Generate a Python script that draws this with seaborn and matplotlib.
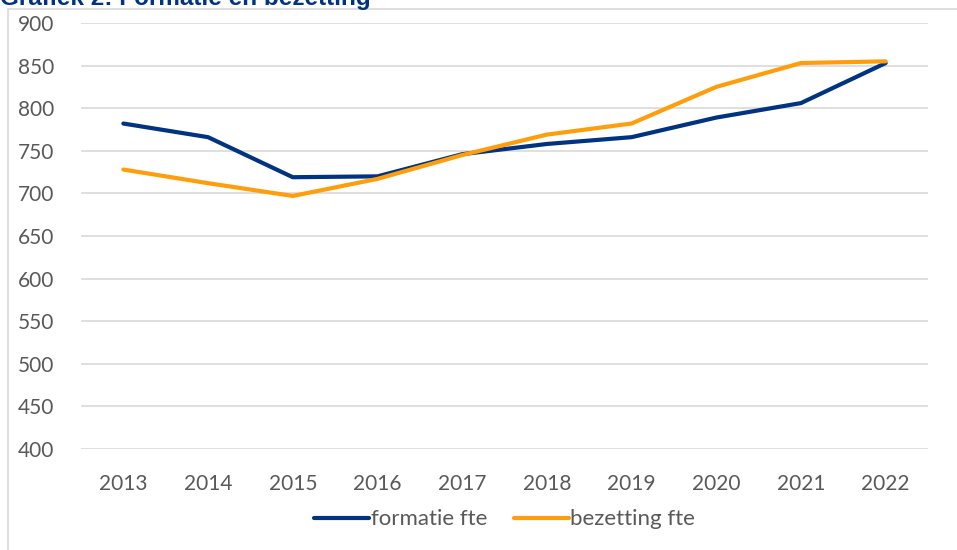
import pandas as pd
import matplotlib
matplotlib.use("Agg")
import matplotlib.pyplot as plt
from matplotlib.patches import Rectangle
import seaborn as sns

# values
years = ["2013", "2014", "2015", "2016", "2017", "2018", "2019", "2020", "2021", "2022"]
formatie = [782, 766, 719, 720, 746, 758, 766, 789, 806, 853]
bezetting = [728, 712, 697, 717, 745, 769, 782, 825, 853, 855]
series_names = ["formatie fte", "bezetting fte"]
y_ticks = [400, 450, 500, 550, 600, 650, 700, 750, 800, 850, 900]

df = pd.DataFrame({
    "jaar": years * 2,
    "fte": formatie + bezetting,
    "reeks": [series_names[0]] * len(years) + [series_names[1]] * len(years),
})

sns.set_style("white")
plt.rcParams["font.family"] = ["Lato", "DejaVu Sans"]

fig = plt.figure(figsize=(9.57, 5.5), dpi=100)
ax = fig.add_axes([81 / 957, 1 - 449 / 550, 847 / 957, 426 / 550])

sns.lineplot(data=df, x="jaar", y="fte", hue="reeks", sort=False,
             palette={series_names[0]: "#003380", series_names[1]: "#ff9e0d"},
             linewidth=3.0, ax=ax)

ax.set_xlim(-0.5, len(years) - 0.5)
ax.set_ylim(400, 900)
ax.set_yticks(y_ticks)
ax.yaxis.grid(True, color="#d9d9d9", linewidth=1.2)
ax.xaxis.grid(False)
ax.set_axisbelow(True)
for s in ax.spines.values():
    s.set_visible(False)
ax.tick_params(axis="both", length=0, labelsize=15, labelcolor="#595959")
ax.tick_params(axis="y", pad=19)
ax.tick_params(axis="x", pad=18)
ax.set_xlabel("")
ax.set_ylabel("")

leg = ax.legend(loc="center", bbox_to_anchor=(0.5, -0.165), ncol=2, frameon=False,
                fontsize=16, handlelength=2.5, handletextpad=0.05, columnspacing=1.2)
for txt in leg.get_texts():
    txt.set_color("#595959")
for h in leg.get_lines():
    h.set_linewidth(3.0)

# outer chart border (partly off-canvas, as in the source)
fig.patches.append(Rectangle((8 / 957, -0.1), 1.2, 1 - 9 / 550 + 0.1,
                             transform=fig.transFigure, fill=False,
                             edgecolor="#d9d9d9", linewidth=1.2))

# clipped title at the very top
fig.text(0.0, 1 - 5 / 550, "Grafiek 2: Formatie en bezetting", fontsize=17.5,
         fontweight="bold", color="#003380", family=["Liberation Sans", "DejaVu Sans"],
         ha="left", va="baseline")

fig.savefig("out.png", dpi=100)
